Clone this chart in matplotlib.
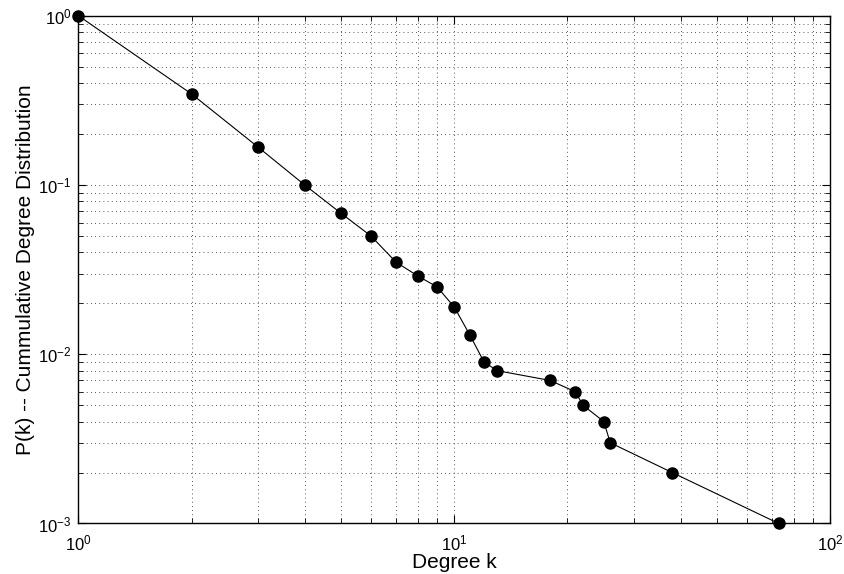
import numpy as np
import matplotlib
matplotlib.use("Agg")
import matplotlib.pyplot as plt
from matplotlib.ticker import LogLocator, NullFormatter

# degree values and cumulative distribution
degree = [1, 2, 3, 4, 5, 6, 7, 8, 9, 10, 11, 12, 13, 18, 21, 22, 25, 26, 38, 73]
cum_prob = [1.0, 0.345, 0.168, 0.1, 0.068, 0.05, 0.035, 0.029, 0.025, 0.019,
            0.013, 0.009, 0.008, 0.007, 0.006, 0.005, 0.004, 0.003, 0.002, 0.001]

plt.rcParams['font.family'] = ['Liberation Sans', 'DejaVu Sans']
plt.rcParams['mathtext.fontset'] = 'custom'
plt.rcParams['mathtext.rm'] = 'Liberation Sans'
plt.rcParams['mathtext.default'] = 'regular'

fig = plt.figure(figsize=(8.44, 5.74), dpi=100)
ax = fig.add_axes([0.093, 0.088, 0.8905, 0.8845])

ax.loglog(degree, cum_prob, '-', color='black', linewidth=0.8,
          marker='o', markersize=8, markerfacecolor='black',
          markeredgecolor='black', clip_on=False, zorder=3)

ax.set_xlim(1, 100)
ax.set_ylim(1e-3, 1)

ax.xaxis.set_major_locator(LogLocator(base=10, numticks=10))
ax.yaxis.set_major_locator(LogLocator(base=10, numticks=10))
ax.xaxis.set_minor_locator(LogLocator(base=10, subs=np.arange(2, 10), numticks=20))
ax.yaxis.set_minor_locator(LogLocator(base=10, subs=np.arange(2, 10), numticks=20))
ax.xaxis.set_minor_formatter(NullFormatter())
ax.yaxis.set_minor_formatter(NullFormatter())

ax.grid(True, which='both', linestyle=(0, (1, 4)), color='#222222', linewidth=0.6)

ax.tick_params(which='both', direction='in', top=True, right=True, labelsize=12)
ax.tick_params(which='major', length=6, width=0.8)
ax.tick_params(which='minor', length=3.5, width=0.6)
ax.tick_params(axis='x', pad=7)
ax.tick_params(axis='y', pad=5)
for s in ax.spines.values():
    s.set_linewidth(1.0)

ax.set_xlabel("Degree k", fontsize=15, labelpad=0)
ax.set_ylabel("P(k) -- Cummulative Degree Distribution", fontsize=15, labelpad=2)

fig.savefig("out.png", dpi=100)
